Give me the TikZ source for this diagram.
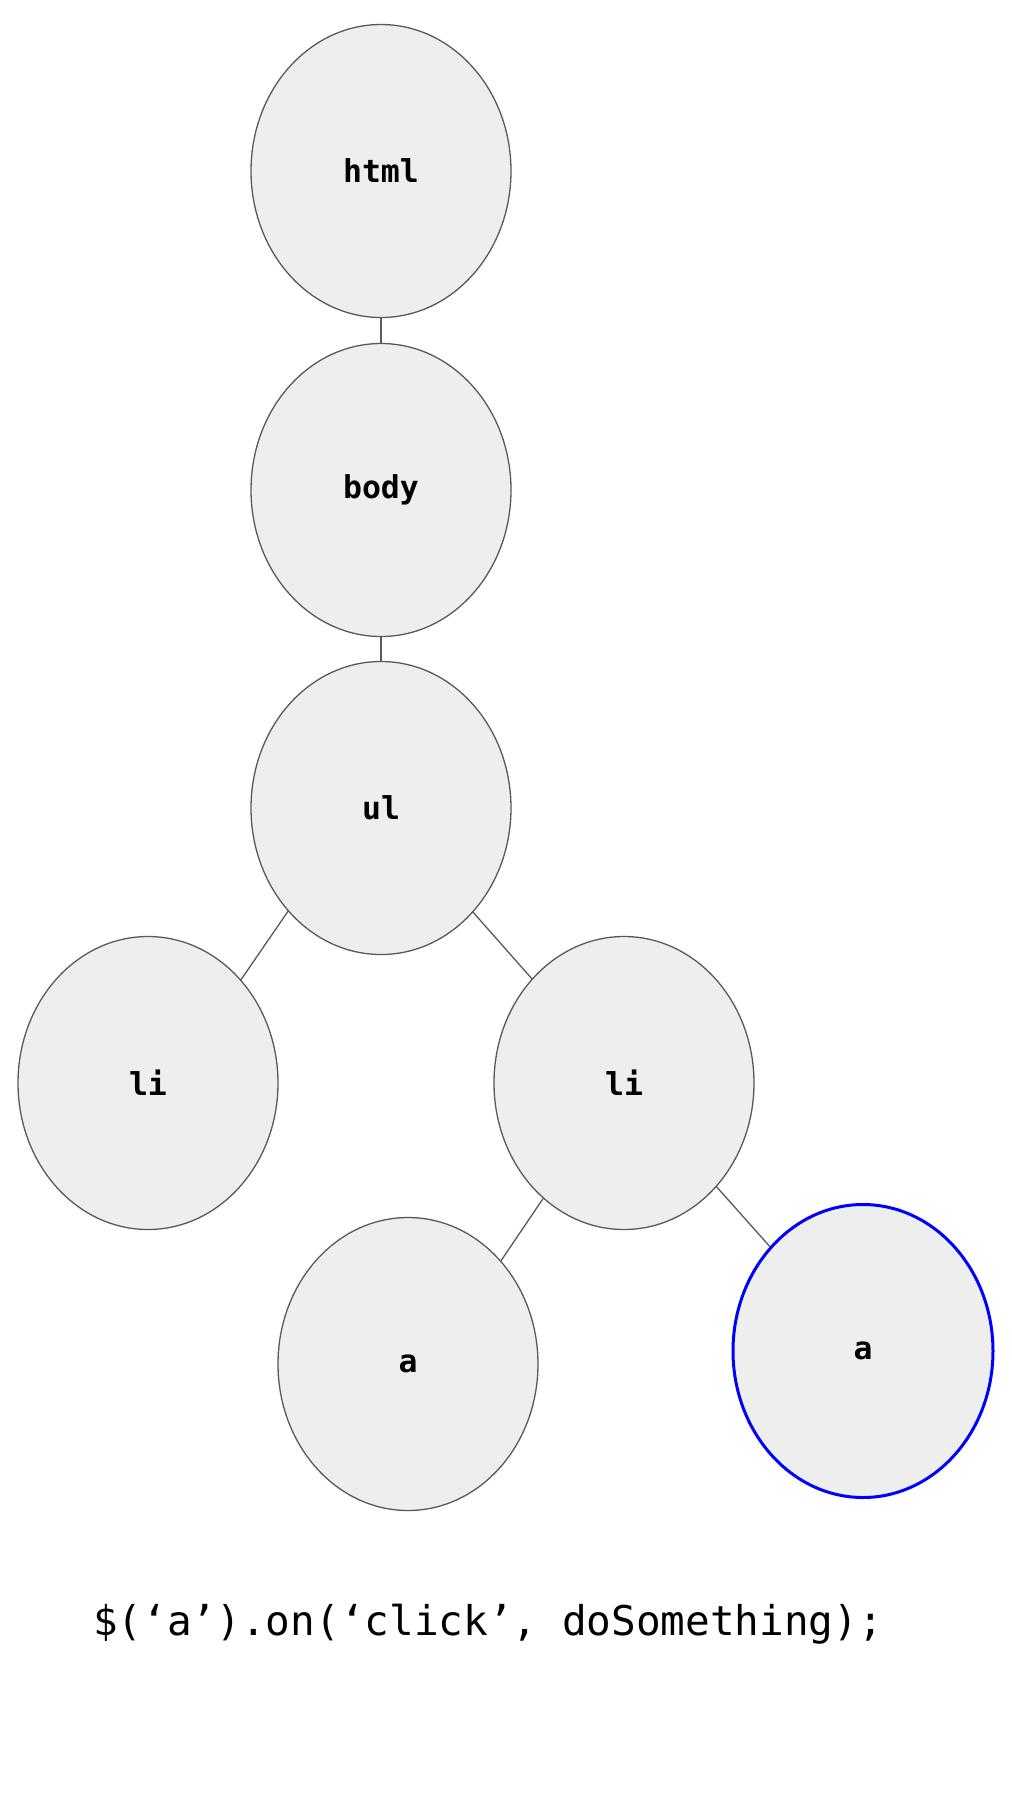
\documentclass[tikz,border=0pt]{standalone}
\usepackage{fontspec}
\setmonofont{DejaVu Sans Mono}
\usetikzlibrary{shapes.geometric}
\definecolor{nodefill}{HTML}{EEEEEE}
\definecolor{nodeline}{HTML}{595959}
\tikzset{
  domnode/.style={ellipse, draw=nodeline, fill=nodefill, line width=1.3pt,
    minimum width=260pt, minimum height=293pt, inner sep=0pt,
    font=\ttfamily\bfseries\fontsize{31.5}{36}\selectfont},
  target/.style={domnode, draw=blue, line width=3pt},
  link/.style={draw=nodeline, line width=1.3pt}
}
\begin{document}
\begin{tikzpicture}[x=1pt,y=-1pt]
\useasboundingbox (0,0) rectangle (1012,1800);
\node[domnode] (html) at (381,171) {html};
\node[domnode] (body) at (381,490) {body};
\node[domnode] (ul) at (381,808) {ul};
\node[domnode] (li1) at (148,1083) {li};
\node[domnode] (li2) at (624,1083) {li};
\node[domnode] (a1) at (408,1364) {a};
\node[target] (a2) at (863,1351) {a};
\draw[link] (html) -- (body);
\draw[link] (body) -- (ul);
\draw[link] (ul.228) -- (li1.48);
\draw[link] (ul) -- (li2);
\draw[link] (li2.235) -- (a1.48);
\draw[link] (li2) -- (a2);
\node[font=\ttfamily\fontsize{41}{46}\selectfont, anchor=base west, inner sep=0pt] (code) at (93,1635) {\$(‘a’).on(‘click’, doSomething);};
\end{tikzpicture}
\end{document}
